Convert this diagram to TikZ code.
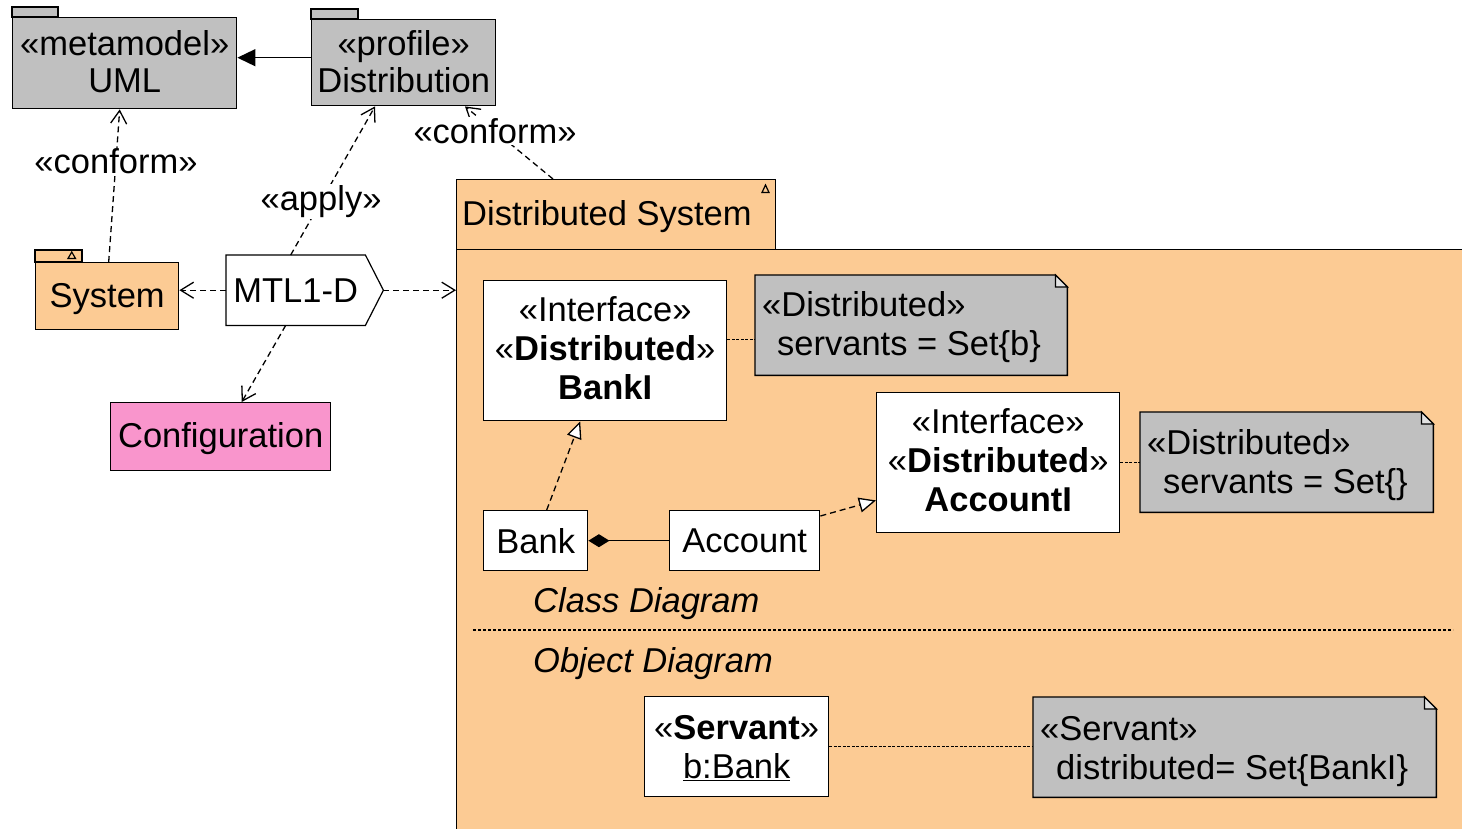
\documentclass[tikz,border=0pt]{standalone}
\usepackage{fontspec}
\setmainfont{Liberation Sans}
\usetikzlibrary{arrows.meta}
\pgfdeclarelayer{bg}
\pgfsetlayers{bg,main}
\definecolor{pkggray}{HTML}{C0C0C0}
\definecolor{foldgray}{HTML}{E2E2E2}
\definecolor{pkgorange}{HTML}{FCCB94}
\definecolor{cfgpink}{HTML}{F995CC}
\begin{document}
\begin{tikzpicture}[x=1pt,y=-1pt,
  every node/.style={font=\fontsize{34.5}{39}\selectfont, inner sep=0pt},
  box/.style={draw=black, line width=1.4pt, rectangle, anchor=north west, align=center},
  tab/.style={draw=black, line width=1.4pt},
  txt/.style={anchor=west, align=left, inner xsep=7pt},
  ctr/.style={align=center},
  notefill/.style={draw=black, line width=1.4pt, fill=pkggray},
  lbl/.style={fill=white, inner sep=1pt},
  dep/.style={draw=black, line width=1.3pt, dash pattern=on 6pt off 4pt,
    -{Straight Barb[length=13pt,width=16pt,line width=1.3pt]}},
  real/.style={draw=black, line width=1.3pt, dash pattern=on 6pt off 4pt,
    -{Triangle[open,fill=white,length=17pt,width=15pt,line width=1.3pt]}},
  link/.style={draw=black, line width=1.2pt, dash pattern=on 3pt off 1.5pt},
  ext/.style={draw=black, line width=1.4pt, -{Triangle[length=18pt,width=17pt]}},
  comp/.style={draw=black, line width=1.4pt, -{Diamond[length=21pt,width=13pt]}},
]
\useasboundingbox (0,0) rectangle (1462,829);
\clip (0,0) rectangle (1462,829);

% ---------- Distributed System package (background) ----------
\begin{pgfonlayer}{bg}
  \node[box, fill=pkgorange, minimum width=1030pt, minimum height=620pt] (dsbody) at (456,249) {};
  \node[box, fill=pkgorange, minimum width=319pt, minimum height=70pt] (dstab) at (456,179) {};
  \draw[line width=1.2pt] (762,192.5) -- (769,192.5) -- (765.5,185) -- cycle;
\end{pgfonlayer}
\node[anchor=west] (dstab-t) at ([xshift=6pt,yshift=-2pt]dstab.west) {Distributed System};

% ---------- top packages ----------
\node[box, fill=pkggray, minimum width=224pt, minimum height=91pt] (uml) at (12,17) {};
\node[ctr, font=\fontsize{34.5}{37}\selectfont] (uml-t) at ([yshift=2pt]uml.center) {«metamodel»\\UML};
\draw[tab, fill=pkggray] (uml.north west) rectangle ++(46,-10);

\node[box, fill=pkggray, minimum width=184pt, minimum height=86pt] (distrib) at (311,19) {};
\node[ctr, font=\fontsize{34.5}{37}\selectfont] (distrib-t) at ([yshift=1pt]distrib.center) {«profile»\\Distribution};
\draw[tab, fill=pkggray] (distrib.north west) rectangle ++(47,-10);

% ---------- System package ----------
\node[box, fill=pkgorange, minimum width=143pt, minimum height=67pt] (system) at (35,262) {};
\node (system-t) at ([yshift=-3pt]system.center) {System};
\draw[tab, fill=pkgorange] (system.north west) rectangle ++(47,-12);
\draw[line width=1.2pt] (68,258.5) -- (75.5,258.5) -- (71.75,252) -- cycle;

% ---------- MTL1-D ----------
\node[box, draw=none, minimum width=138pt, minimum height=69pt] (mtl) at (226,255) {MTL1-D};
\coordinate (mtltip) at ([xshift=18pt]mtl.east);
\begin{pgfonlayer}{bg}
  \draw[line width=1.2pt, fill=white] (mtl.north west) -- (mtl.north east) -- (mtltip)
     -- (mtl.south east) -- (mtl.south west) -- cycle;
\end{pgfonlayer}

% ---------- Configuration ----------
\node[box, fill=cfgpink, minimum width=220pt, minimum height=68pt] (config) at (110,402) {};
\node (config-t) at ([yshift=-2pt]config.center) {Configuration};

% ---------- Class diagram ----------
\node[box, fill=white, minimum width=243pt, minimum height=140pt] (banki) at (483,280) {};
\node[ctr] (banki-t) at ([yshift=3pt]banki.center) {«Interface»\\«\textbf{Distributed}»\\\textbf{BankI}};
\node[box, fill=white, minimum width=243pt, minimum height=140pt] (accounti) at (876,392) {};
\node[ctr] (accounti-t) at ([yshift=3pt]accounti.center) {«Interface»\\«\textbf{Distributed}»\\\textbf{AccountI}};
\node[box, fill=white, minimum width=104pt, minimum height=60pt] (bank) at (483,510) {Bank};
\node[box, fill=white, minimum width=150pt, minimum height=60pt] (account) at (669,510) {Account};

\node[box, draw=none, minimum width=311pt, minimum height=99pt] (note1) at (755,275) {};
\node[txt] (note1-t) at ([yshift=-2pt]note1.west) {«Distributed»\\\hspace*{15pt}servants = Set\{b\}};
\node[box, draw=none, minimum width=292pt, minimum height=99pt] (note2) at (1140,412) {};
\node[txt] (note2-t) at ([yshift=-3pt]note2.west) {«Distributed»\\\hspace*{16pt}servants = Set\{\}};

\node[anchor=west, font=\fontsize{34.5}{39}\selectfont\itshape] (cdlabel) at (533,604) {Class Diagram};
\draw[line width=1.1pt, dash pattern=on 3pt off 2pt] (473,630) -- (1453,630);
\node[anchor=west, font=\fontsize{34.5}{39}\selectfont\itshape] (odlabel) at (533,664) {Object Diagram};

% ---------- Object diagram ----------
\node[box, fill=white, minimum width=184pt, minimum height=100pt] (bbank) at (644,696) {};
\node[ctr] (bbank-t) at ([yshift=-1pt]bbank.center) {«\textbf{Servant}»\\\underline{b:Bank}};
\node[box, draw=none, minimum width=402pt, minimum height=99pt] (note3) at (1033,697) {};
\node[txt] (note3-t) at ([yshift=-4pt]note3.west) {«Servant»\\\hspace*{16pt}distributed= Set\{BankI\}};

% ---------- note shapes ----------
\begin{pgfonlayer}{bg}
  \foreach \n in {note1,note2,note3}{
    \draw[notefill] (\n.north west) -- ([xshift=-12pt]\n.north east)
      -- ([yshift=-12pt]\n.north east) -- (\n.south east) -- (\n.south west) -- cycle;
    \draw[line width=1.2pt, fill=foldgray] ([xshift=-12pt]\n.north east)
      -- ([xshift=-12pt,yshift=-12pt]\n.north east) -- ([yshift=-12pt]\n.north east) -- cycle;
  }
\end{pgfonlayer}

% ---------- connectors ----------
\draw[ext] ([yshift=5pt]distrib.west) -- ([yshift=5pt]distrib.west -| uml.east);
\draw[dep] ([xshift=1.5pt]system.north) -- ([xshift=-5pt]uml.south)
  node[lbl, pos=0.66] (lconf1) {«conform»};
\draw[dep] ([xshift=-5pt]mtl.north) -- ([xshift=64pt]distrib.south west)
  node[lbl, pos=0.36] (lapply) {«apply»};
\draw[dep] ([xshift=97pt]dstab.north west) -- ([xshift=154pt]distrib.south west);
\node[lbl] (lconf2) at (495,131) {«conform»};
\draw[dep] (mtl.west) -- (mtl.west -| system.east);
\draw[dep] ([xshift=-10pt]mtl.south) -- ([xshift=21pt]config.north);
\draw[dep] (mtltip) -- (mtltip -| dsbody.west);

\draw[real] ([xshift=11pt]bank.north) -- ([xshift=-25pt]banki.south);
\draw[real] ([yshift=-6pt]account.north east) -- ([yshift=33pt]accounti.south west);
\draw[comp] (account.west) -- (bank.east);

\draw[link] ([yshift=11pt]banki.east) -- ([yshift=11pt]banki.east -| note1.west);
\draw[link] (accounti.east) -- (accounti.east -| note2.west);
\draw[link] (bbank.east) -- (bbank.east -| note3.west);
\end{tikzpicture}
\end{document}
